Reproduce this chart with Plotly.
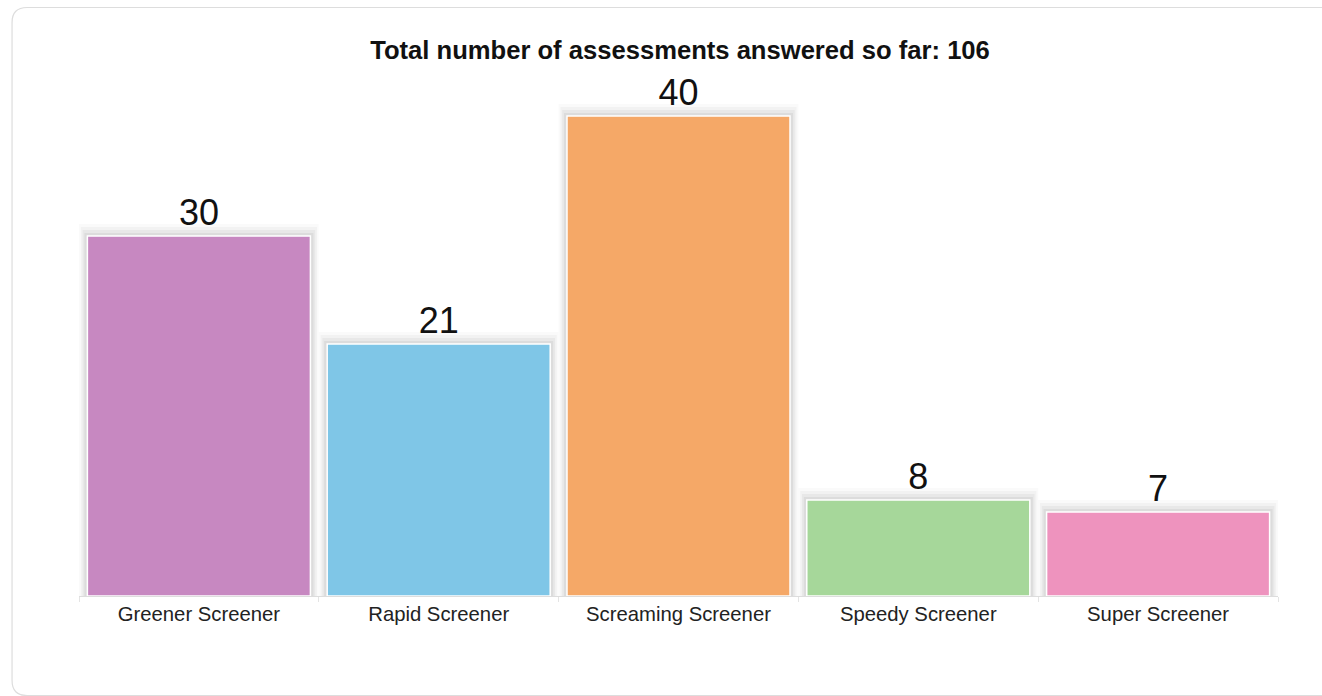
import plotly.graph_objects as go

categories = ["Greener Screener", "Rapid Screener", "Screaming Screener", "Speedy Screener", "Super Screener"]
values = [30, 21, 40, 8, 7]
colors = ["#C788C1", "#7FC6E7", "#F5A867", "#A6D79A", "#EE93BE"]
title_text = "Total number of assessments answered so far: 106"

W, H = 1322, 696
ML, MR, MT, MB = 78.5, 43.5, 68, 100
PW, PH = W - ML - MR, H - MT - MB

def px(x):
    return (x - ML) / PW

def py(y):
    return (H - MB - y) / PH

fig = go.Figure()

# soft shadow layers
for w, a, extra in [(1.0, 0.02, 1.0), (0.985, 0.03, 0.75), (0.97, 0.04, 0.5), (0.955, 0.05, 0.25)]:
    fig.add_trace(go.Bar(
        x=categories, y=[v + extra for v in values],
        width=w, marker=dict(color=f"rgba(0,0,0,{a})", line=dict(width=0)),
        hoverinfo="skip", showlegend=False, offsetgroup="s", base=0,
    ))

fig.add_trace(go.Bar(
    x=categories, y=values, width=0.93,
    marker=dict(color=colors, line=dict(color="white", width=1.5)),
    text=[str(v) for v in values], textposition="outside",
    textfont=dict(family="Liberation Sans, Arial, sans-serif", size=36, color="#111"),
    cliponaxis=False, showlegend=False, offsetgroup="s",
))

# card outline with rounded corners
r = 15
L, T, R, B = 11.5, 7.5, 1345, 695.5
path = (f"M {px(L+r)},{py(T)} L {px(R)},{py(T)} L {px(R)},{py(B)} L {px(L+r)},{py(B)} "
        f"Q {px(L)},{py(B)} {px(L)},{py(B-r)} L {px(L)},{py(T+r)} "
        f"Q {px(L)},{py(T)} {px(L+r)},{py(T)} Z")

fig.update_layout(
    width=W, height=H,
    margin=dict(l=ML, r=MR, t=MT, b=MB),
    paper_bgcolor="white", plot_bgcolor="white",
    barmode="overlay",
    title=dict(text=f"<b>{title_text}</b>", xref="container", x=680 / W, xanchor="center",
               yref="container", y=1 - 50 / H, yanchor="middle",
               font=dict(family="Liberation Sans, Arial, sans-serif", size=25.6, color="#111")),
    shapes=[dict(type="path", xref="paper", yref="paper", path=path,
                 line=dict(color="#DDDDDD", width=1.2), fillcolor="rgba(0,0,0,0)", layer="below")],
    xaxis=dict(showgrid=False, showline=True, linecolor="#DDDDDD", linewidth=1,
               ticks="outside", tickson="boundaries", ticklen=5, tickcolor="#E4E4E4",
               tickfont=dict(family="Liberation Sans, Arial, sans-serif", size=20.3, color="#222"),
               fixedrange=True),
    yaxis=dict(range=[0, 44], visible=False, showgrid=False, zeroline=False, fixedrange=True),
    font=dict(family="Liberation Sans, Arial, sans-serif"),
)

fig.write_html("out.html")
